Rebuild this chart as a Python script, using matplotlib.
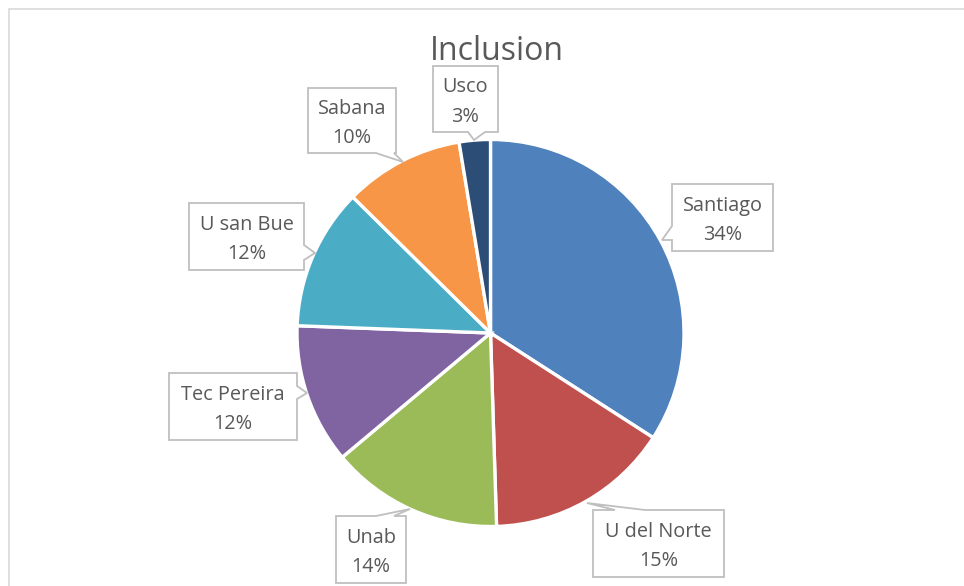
import matplotlib
matplotlib.use("Agg")
import matplotlib.pyplot as plt
from matplotlib.patches import Polygon, Rectangle

categories = ["Santiago", "U del Norte", "Unab", "Tec Pereira", "U san Bue", "Sabana", "Usco"]
values = [34.1, 15.4, 14.4, 11.7, 11.8, 10.0, 2.6]
colors = ["#4F81BD", "#C0504D", "#9BBB59", "#8064A2", "#4BACC6", "#F79646", "#2C4D75"]

W, H = 964, 586
fig = plt.figure(figsize=(W / 100, H / 100), dpi=100)
ax = fig.add_axes([0, 0, 1, 1])

def Y(y):
    return H - y

cx, cy, r = 490.5, 333, 193.5
ax.pie(values, colors=colors, startangle=90, counterclock=False,
       center=(cx, Y(cy)), radius=r,
       wedgeprops=dict(edgecolor="white", linewidth=2.4), frame=True)
ax.set_xlim(0, W)
ax.set_ylim(0, H)
ax.set_aspect("equal")
ax.axis("off")

# chart border
ax.add_patch(Rectangle((9, Y(H + 20)), W + 20, H + 20 - 9, fill=False,
                       edgecolor="#D9D9D9", linewidth=1.2))

ax.text(497, Y(52), "Inclusion", ha="center", va="center", fontsize=23,
        color="#595959", family="Open Sans")

# callout layout: box (x0, y0, x1, y1), side of tail, tail base (a, b), tip (tx, ty)
callouts = {
    "Santiago":    ((672, 184, 773, 251), "left",   (226, 240), (662, 240)),
    "U del Norte": ((593, 510, 724, 577), "top",    (615, 645), (587, 503)),
    "Unab":        ((336, 516, 406, 583), "top",    (376, 394), (410, 509)),
    "Tec Pereira": ((169, 373, 297, 440), "right",  (386, 399), (307, 393)),
    "U san Bue":   ((189, 203, 304, 270), "right",  (245, 260), (315, 253)),
    "Sabana":      ((308, 88, 396, 153),  "bottom", (376, 394), (403, 162)),
    "Usco":        ((433, 66, 498, 132),  "bottom", (468, 485), (474, 140)),
}

total = sum(values)
for name, v in zip(categories, values):
    (x0, y0, x1, y1), side, (a, b), (tx, ty) = callouts[name]
    if side == "top":
        pts = [(x0, y0), (a, y0), (tx, ty), (b, y0), (x1, y0), (x1, y1), (x0, y1)]
    elif side == "bottom":
        pts = [(x0, y0), (x1, y0), (x1, y1), (b, y1), (tx, ty), (a, y1), (x0, y1)]
    elif side == "left":
        pts = [(x0, y0), (x1, y0), (x1, y1), (x0, y1), (x0, b), (tx, ty), (x0, a)]
    else:
        pts = [(x0, y0), (x1, y0), (x1, a), (tx, ty), (x1, b), (x1, y1), (x0, y1)]
    ax.add_patch(Polygon([(px, Y(py)) for px, py in pts], closed=True,
                         facecolor="white", edgecolor="#BFBFBF", linewidth=1.3,
                         zorder=5))
    pct = round(100 * v / total)
    ax.text((x0 + x1) / 2, Y((y0 + y1) / 2 + 3), f"{name}\n{pct}%", ha="center",
            va="center", fontsize=14.3, color="#595959", family="Open Sans",
            linespacing=1.65, zorder=6)

fig.savefig("out.png", dpi=100)
